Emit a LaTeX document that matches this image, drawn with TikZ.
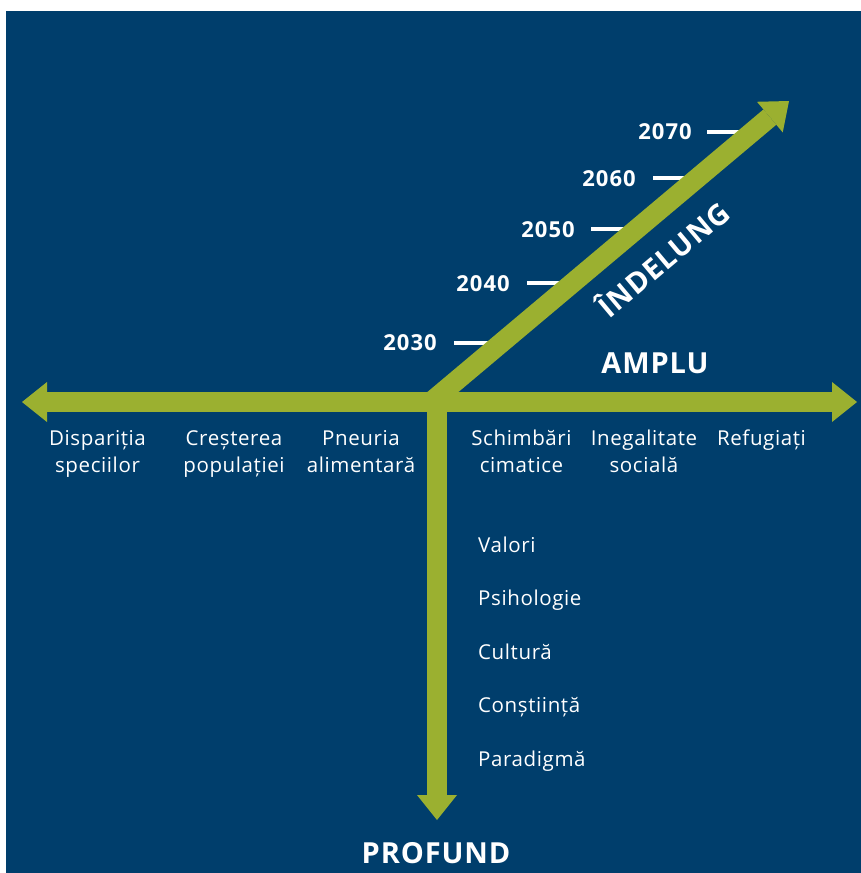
\documentclass[tikz,border=0pt]{standalone}
\usepackage{fontspec}
\setmainfont{Open Sans}[LetterSpace=3]
\newfontfamily\yearfont{Open Sans}[LetterSpace=5]
\newfontfamily\titlefont{Open Sans}[LetterSpace=3]
\usetikzlibrary{arrows.meta}
\definecolor{bg}{RGB}{0,62,108}
\definecolor{grn}{RGB}{155,176,48}
\begin{document}
\begin{tikzpicture}[x=1pt,y=-1pt,
  >={Triangle[width=40pt,length=25pt,line width=0pt]},
  axis/.style={line width=20pt, draw=grn},
  tick/.style={draw=white, line width=4pt},
  year/.style={font=\yearfont\bfseries\fontsize{22}{26}\selectfont, text=white, anchor=base east, inner sep=0pt},
  lbl/.style={font=\fontsize{20.5}{24}\selectfont, text=white, anchor=base, inner sep=0pt},
  item/.style={font=\fontsize{20.5}{24}\selectfont, text=white, anchor=base west, inner sep=0pt},
  big/.style={font=\titlefont\bfseries\fontsize{29}{34}\selectfont, text=white, anchor=base, inner sep=0pt}]
\useasboundingbox (0,0) rectangle (861,873);
\fill[white] (0,0) rectangle (861,873);
\fill[bg] (6,11) rectangle (861,873);
% key points
\coordinate (L) at (22,402);
\coordinate (R) at (857,402);
\coordinate (O) at (437,402);
\coordinate (D) at (437,820);
\coordinate (S) at (431,402);
\coordinate (T) at (789,101);
% ticks
\coordinate (k1) at (707,132); \coordinate (k1e) at (752,132);
\coordinate (k2) at (653,178); \coordinate (k2e) at (697,178);
\coordinate (k3) at (591,229); \coordinate (k3e) at (637,229);
\coordinate (k4) at (527,283); \coordinate (k4e) at (572,283);
\coordinate (k5) at (454,343); \coordinate (k5e) at (501,343);
\draw[tick] (k1) -- (k1e);
\draw[tick] (k2) -- (k2e);
\draw[tick] (k3) -- (k3e);
\draw[tick] (k4) -- (k4e);
\draw[tick] (k5) -- (k5e);
\node[year] (y1) at (692,139) {2070};
\node[year] (y2) at (636,186) {2060};
\node[year] (y3) at (575,237) {2050};
\node[year] (y4) at (510,291) {2040};
\node[year] (y5) at (437,350) {2030};
% axes
\draw[axis,<->] (L) -- (R);
\draw[axis,->] (O) -- (D);
\draw[axis,->] (S) -- (T);
% titles
\node[big] (amplu) at (655,373) {AMPLU};
\node[big] (profund) at (436,863) {PROFUND};
\node[big, anchor=base, rotate=40] (indelung) at (671,268) {ÎNDELUNG};
% horizontal labels
\node[lbl] (a1) at (97.5,445) {Dispariția};
\node[lbl] (a2) at (97.5,472.5) {speciilor};
\node[lbl] (b1) at (234,445) {Creșterea};
\node[lbl] (b2) at (234,472.5) {populației};
\node[lbl] (c1) at (361,445) {Pneuria};
\node[lbl] (c2) at (361,472.5) {alimentară};
\node[lbl] (d1) at (521.5,445) {Schimbări};
\node[lbl] (d2) at (521.5,472.5) {cimatice};
\node[lbl] (e1) at (644,445) {Inegalitate};
\node[lbl] (e2) at (644,472.5) {socială};
\node[lbl] (f1) at (761.5,445) {Refugiați};
% vertical list
\node[item] (v1) at (478,552) {Valori};
\node[item] (v2) at (478,605.5) {Psihologie};
\node[item] (v3) at (478,659) {Cultură};
\node[item] (v4) at (478,712.5) {Conștiință};
\node[item] (v5) at (478,766) {Paradigmă};
\end{tikzpicture}
\end{document}
